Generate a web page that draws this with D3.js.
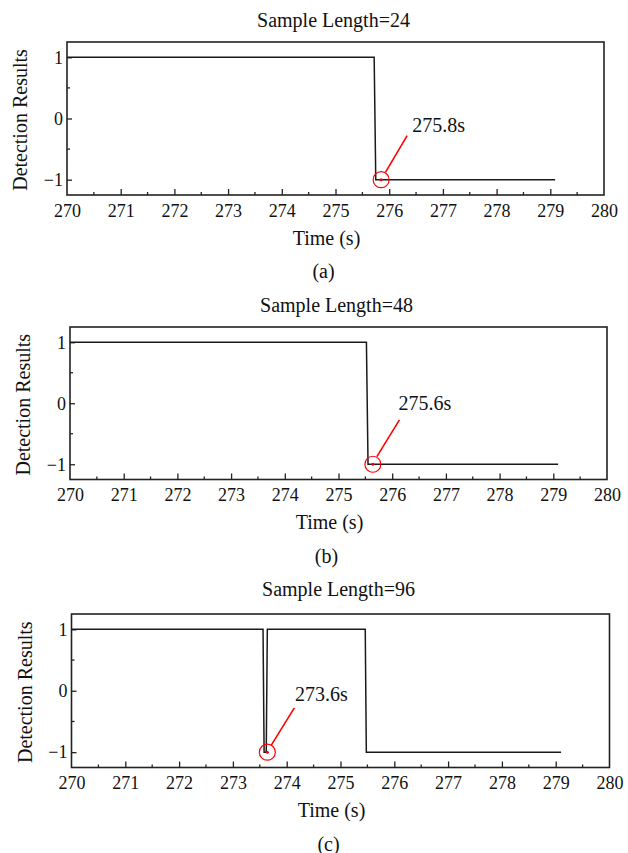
<!DOCTYPE html>
<html>
<head>
<meta charset="utf-8">
<script src="https://cdn.jsdelivr.net/npm/d3@7"></script>
<style>
  html, body { margin: 0; padding: 0; background: #fff; }
  svg text { font-family: "Times New Roman", Times, "Liberation Serif", Tinos, "DejaVu Serif", serif; fill: #111; }
</style>
</head>
<body>
<div id="chart"></div>
<script>
// DATA
const panelTags = ['(a)', '(b)', '(c)'];
const sampleLengths = [24, 48, 96];

// detection result series, one per sample length (time in s, result)
const timeA = [270, 275.72, 275.75, 279.09];
const resultA = [1, 1, -1, -1];
const timeB = [270, 275.52, 275.55, 279.09];
const resultB = [1, 1, -1, -1];
const timeC = [270, 273.56, 273.58, 273.62, 273.64, 275.46, 275.48, 279.1];
const resultC = [1, 1, -1, -1, 1, 1, -1, -1];

// first detection point marked in red
const detectTimes = [275.85, 275.64, 273.64];
const detectLabels = ['275.8s', '275.6s', '273.6s'];

const xTicks = [270, 271, 272, 273, 274, 275, 276, 277, 278, 279, 280];
const yTicks = [-1, 0, 1];
const xDomain = [270, 280];
const yDomain = [-1.25, 1.25];

const serif = '"Times New Roman", Times, "Liberation Serif", Tinos, "DejaVu Serif", serif';

// LAYOUT (frame box of each panel, in px)
const frames = [
  { left: 67, top: 42, right: 604, bottom: 195 },
  { left: 70, top: 327, right: 607, bottom: 479.5 },
  { left: 71.5, top: 614, right: 609.5, bottom: 767.5 }
];
const titleGap = [15, 15.5, 18];
// annotation pixel offsets relative to the red circle
const callouts = [
  { x1: 4.3, y1: -7.3, x2: 26, y2: -44, tx: 31, ty: -48 },
  { x1: 4, y1: -7.7, x2: 26.6, y2: -44.3, tx: 25.6, ty: -54.3 },
  { x1: 3.7, y1: -6.6, x2: 27, y2: -44.3, tx: 27.7, ty: -51.6 }
];

const series = [
  d3.zip(timeA, resultA),
  d3.zip(timeB, resultB),
  d3.zip(timeC, resultC)
];

const width = 628;
const height = 853;

const svg = d3.select('#chart')
  .append('svg')
  .attr('width', width)
  .attr('height', height)
  .style('font-family', serif);

series.forEach((pts, i) => {
  const f = frames[i];
  const g = svg.append('g');

  const x = d3.scaleLinear().domain(xDomain).range([f.left, f.right]);
  const y = d3.scaleLinear().domain(yDomain).range([f.bottom, f.top]);

  // minor ticks at the halves
  const xMinor = d3.range(270.5, 280, 1);
  const yMinor = [-0.5, 0.5];

  // bottom axis, ticks pointing inward
  const xAxis = g.append('g')
    .attr('transform', 'translate(0,' + f.bottom + ')')
    .call(d3.axisBottom(x).tickValues(xTicks).tickFormat(d3.format('d'))
      .tickSizeInner(-6).tickSizeOuter(0).tickPadding(9));
  xAxis.attr('font-family', serif);
  xAxis.selectAll('.tick')
    .filter(d => d === 270 || d === 280)
    .select('line').remove();
  xAxis.select('.domain').remove();
  xAxis.selectAll('text')
    .attr('font-size', 18)
    .attr('dy', '0.71em')
    .attr('fill', '#111');
  xAxis.selectAll('line').attr('stroke', '#222').attr('stroke-width', 1.3);
  g.selectAll('.xminor')
    .data(xMinor)
    .enter().append('line')
    .attr('x1', d => x(d)).attr('x2', d => x(d))
    .attr('y1', f.bottom).attr('y2', f.bottom - 3)
    .attr('stroke', '#222').attr('stroke-width', 1.3);

  // left axis, ticks pointing inward
  const yAxis = g.append('g')
    .attr('transform', 'translate(' + f.left + ',0)')
    .call(d3.axisLeft(y).tickValues(yTicks).tickFormat(d3.format('d'))
      .tickSizeInner(-5).tickSizeOuter(0).tickPadding(4));
  yAxis.attr('font-family', serif);
  yAxis.select('.domain').remove();
  yAxis.selectAll('text')
    .attr('font-size', 18)
    .attr('fill', '#111');
  yAxis.selectAll('line').attr('stroke', '#222').attr('stroke-width', 1.3);
  g.selectAll('.yminor')
    .data(yMinor)
    .enter().append('line')
    .attr('x1', f.left).attr('x2', f.left + 3)
    .attr('y1', d => y(d)).attr('y2', d => y(d))
    .attr('stroke', '#222').attr('stroke-width', 1.3);

  // frame
  g.append('rect')
    .attr('x', f.left).attr('y', f.top)
    .attr('width', f.right - f.left).attr('height', f.bottom - f.top)
    .attr('fill', 'none')
    .attr('stroke', '#222')
    .attr('stroke-width', 1.6);

  // detection line
  const line = d3.line().x(d => x(d[0])).y(d => y(d[1]));
  g.append('path')
    .datum(pts)
    .attr('d', line)
    .attr('fill', 'none')
    .attr('stroke', '#1a1a1a')
    .attr('stroke-width', 1.5);

  // red callout
  const cx = x(detectTimes[i]);
  const cy = y(-1);
  const c = callouts[i];
  g.append('circle')
    .attr('cx', cx).attr('cy', cy).attr('r', 8)
    .attr('fill', 'none').attr('stroke', '#f00').attr('stroke-width', 1.2);
  g.append('circle')
    .attr('cx', cx).attr('cy', cy).attr('r', 1.5)
    .attr('fill', '#e00');
  g.append('line')
    .attr('x1', cx + c.x1).attr('y1', cy + c.y1)
    .attr('x2', cx + c.x2).attr('y2', cy + c.y2)
    .attr('stroke', '#f00').attr('stroke-width', 1.6);
  g.append('text')
    .attr('x', cx + c.tx).attr('y', cy + c.ty)
    .attr('font-size', 20)
    .text(detectLabels[i]);

  // titles and labels
  const mid = (f.left + f.right) / 2;
  g.append('text')
    .attr('x', mid - 2).attr('y', f.top - titleGap[i])
    .attr('text-anchor', 'middle')
    .attr('font-size', 20)
    .text('Sample Length=' + sampleLengths[i]);

  g.append('text')
    .attr('transform', 'translate(' + (f.left - 40) + ',' + ((f.top + f.bottom) / 2 + 1.5) + ') rotate(-90)')
    .attr('text-anchor', 'middle')
    .attr('font-size', 20)
    .text('Detection Results');

  g.append('text')
    .attr('x', mid - 9).attr('y', f.bottom + 49.5)
    .attr('text-anchor', 'middle')
    .attr('font-size', 20)
    .text('Time (s)');

  g.append('text')
    .attr('x', mid - 12).attr('y', f.bottom + 83)
    .attr('text-anchor', 'middle')
    .attr('font-size', 20)
    .text(panelTags[i]);
});
</script>
</body>
</html>
